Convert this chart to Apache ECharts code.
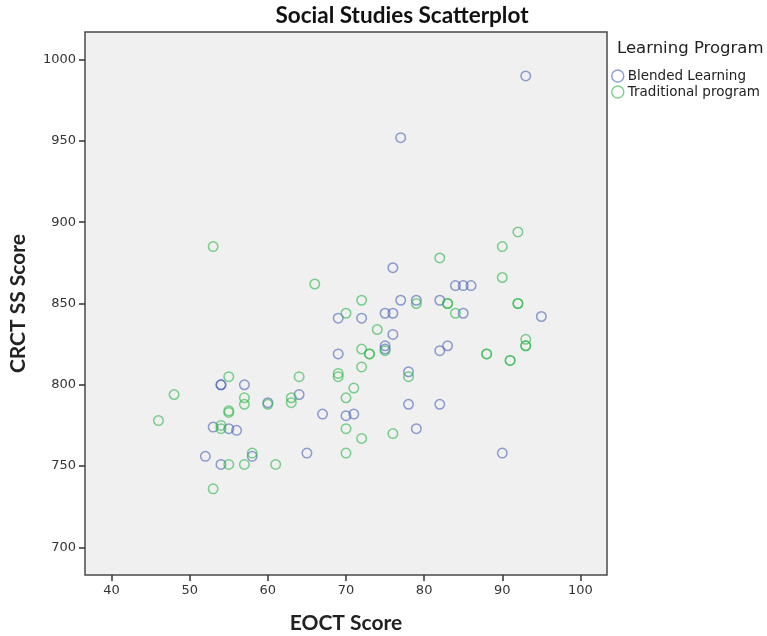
<!DOCTYPE html>
<html><head><meta charset="utf-8">
<script src="https://cdn.jsdelivr.net/npm/echarts@6/dist/echarts.min.js"></script>
<style>html,body{margin:0;padding:0;background:#fff}#c{width:767px;height:636px}</style>
</head><body><div id="c"></div>
<script>
const chartTitle = "Social Studies Scatterplot";
const xTitle = "EOCT Score";
const yTitle = "CRCT SS Score";
const legendTitle = "Learning Program";
const seriesNames = ["Blended Learning", "Traditional program"];
const xTicks = [40, 50, 60, 70, 80, 90, 100];
const yTicks = [700, 750, 800, 850, 900, 950, 1000];

const blendedPoints = [
  [93,990],[77,952],[76,872],[77,852],[79,852],[82,852],[84,861],[85,861],[86,861],
  [69,841],[72,841],[75,844],[76,844],[85,844],[95,842],[76,831],[69,819],[75,824],
  [75,822],[82,821],[83,824],[78,808],[54,800],[54,800],[57,800],[60,789],[64,794],
  [67,782],[70,781],[71,782],[78,788],[82,788],[79,773],[90,758],[65,758],[53,774],
  [55,773],[56,772],[52,756],[58,756],[54,751]
];
const traditionalPoints = [
  [53,885],[92,894],[90,885],[82,878],[90,866],[66,862],[72,852],[79,850],[83,850],
  [83,850],[92,850],[92,850],[70,844],[84,844],[74,834],[93,828],[93,824],[93,824],
  [72,822],[73,819],[73,819],[75,821],[88,819],[88,819],[91,815],[91,815],[72,811],
  [55,805],[64,805],[69,807],[69,805],[78,805],[71,798],[48,794],[57,792],[57,788],
  [60,788],[63,792],[63,789],[70,792],[55,784],[55,783],[46,778],[54,775],[54,773],
  [70,773],[72,767],[76,770],[58,758],[70,758],[55,751],[57,751],[61,751],[53,736]
];

const blue = 'rgba(62,88,180,0.72)';
const green = 'rgba(46,184,75,0.78)';
const labelFont = 'DejaVu Sans';

const chart = echarts.init(document.getElementById('c'));
chart.setOption({
  animation: false,
  backgroundColor: '#fff',
  grid: {left: 85, top: 32, width: 522, height: 543, show: true, containLabel: false,
         outerBoundsMode: 'none',
         backgroundColor: '#F0F0F0', borderColor: '#4a4a4a', borderWidth: 1.5},
  xAxis: {
    type: 'value', min: 36.6, max: 103.4,
    name: xTitle, nameLocation: 'middle', nameGap: 38,
    nameTextStyle: {fontFamily: 'Lato', fontWeight: 'bold', fontSize: 21, color: '#222'},
    axisLine: {show: false},
    splitLine: {show: false},
    axisTick: {show: true, customValues: xTicks, length: 6, lineStyle: {color: '#333', width: 1.5}},
    axisLabel: {customValues: xTicks, fontFamily: labelFont, fontSize: 13, color: '#333', margin: 9,
                formatter: v => String(v)}
  },
  yAxis: {
    type: 'value', min: 683, max: 1017,
    name: yTitle, nameLocation: 'middle', nameGap: 56, nameRotate: 90,
    nameTextStyle: {fontFamily: 'Lato', fontWeight: 'bold', fontSize: 21, color: '#222'},
    axisLine: {show: false},
    splitLine: {show: false},
    axisTick: {show: true, customValues: yTicks, length: 6, lineStyle: {color: '#333', width: 1.5}},
    axisLabel: {customValues: yTicks, fontFamily: labelFont, fontSize: 13, color: '#333', margin: 9,
                formatter: v => String(v)}
  },
  legend: {
    orient: 'vertical', left: 611, top: 69, padding: 0, itemWidth: 12, itemHeight: 12, itemGap: 2,
    textStyle: {fontFamily: labelFont, fontSize: 13.5, color: '#222', padding: [0,0,0,-1]},
    data: [
      {name: seriesNames[0], icon: 'circle', itemStyle: {color: 'transparent', borderColor: blue, borderWidth: 1.5}},
      {name: seriesNames[1], icon: 'circle', itemStyle: {color: 'transparent', borderColor: green, borderWidth: 1.5}}
    ]
  },
  graphic: [
    {type: 'text', x: 402, y: 16,
     style: {text: chartTitle, font: 'bold 22.5px Lato', fill: '#111', align: 'center', verticalAlign: 'middle'}},
    {type: 'text', x: 617, y: 49,
     style: {text: legendTitle, font: '16.5px "DejaVu Sans"', fill: '#222', align: 'left', verticalAlign: 'middle'}}
  ],
  series: [
    {name: seriesNames[0], type: 'scatter', data: blendedPoints, symbol: 'circle', symbolSize: 9.5,
     itemStyle: {color: 'transparent', borderColor: blue, borderWidth: 1.5}},
    {name: seriesNames[1], type: 'scatter', data: traditionalPoints, symbol: 'circle', symbolSize: 9.5,
     itemStyle: {color: 'transparent', borderColor: green, borderWidth: 1.5}}
  ]
});
</script></body></html>
